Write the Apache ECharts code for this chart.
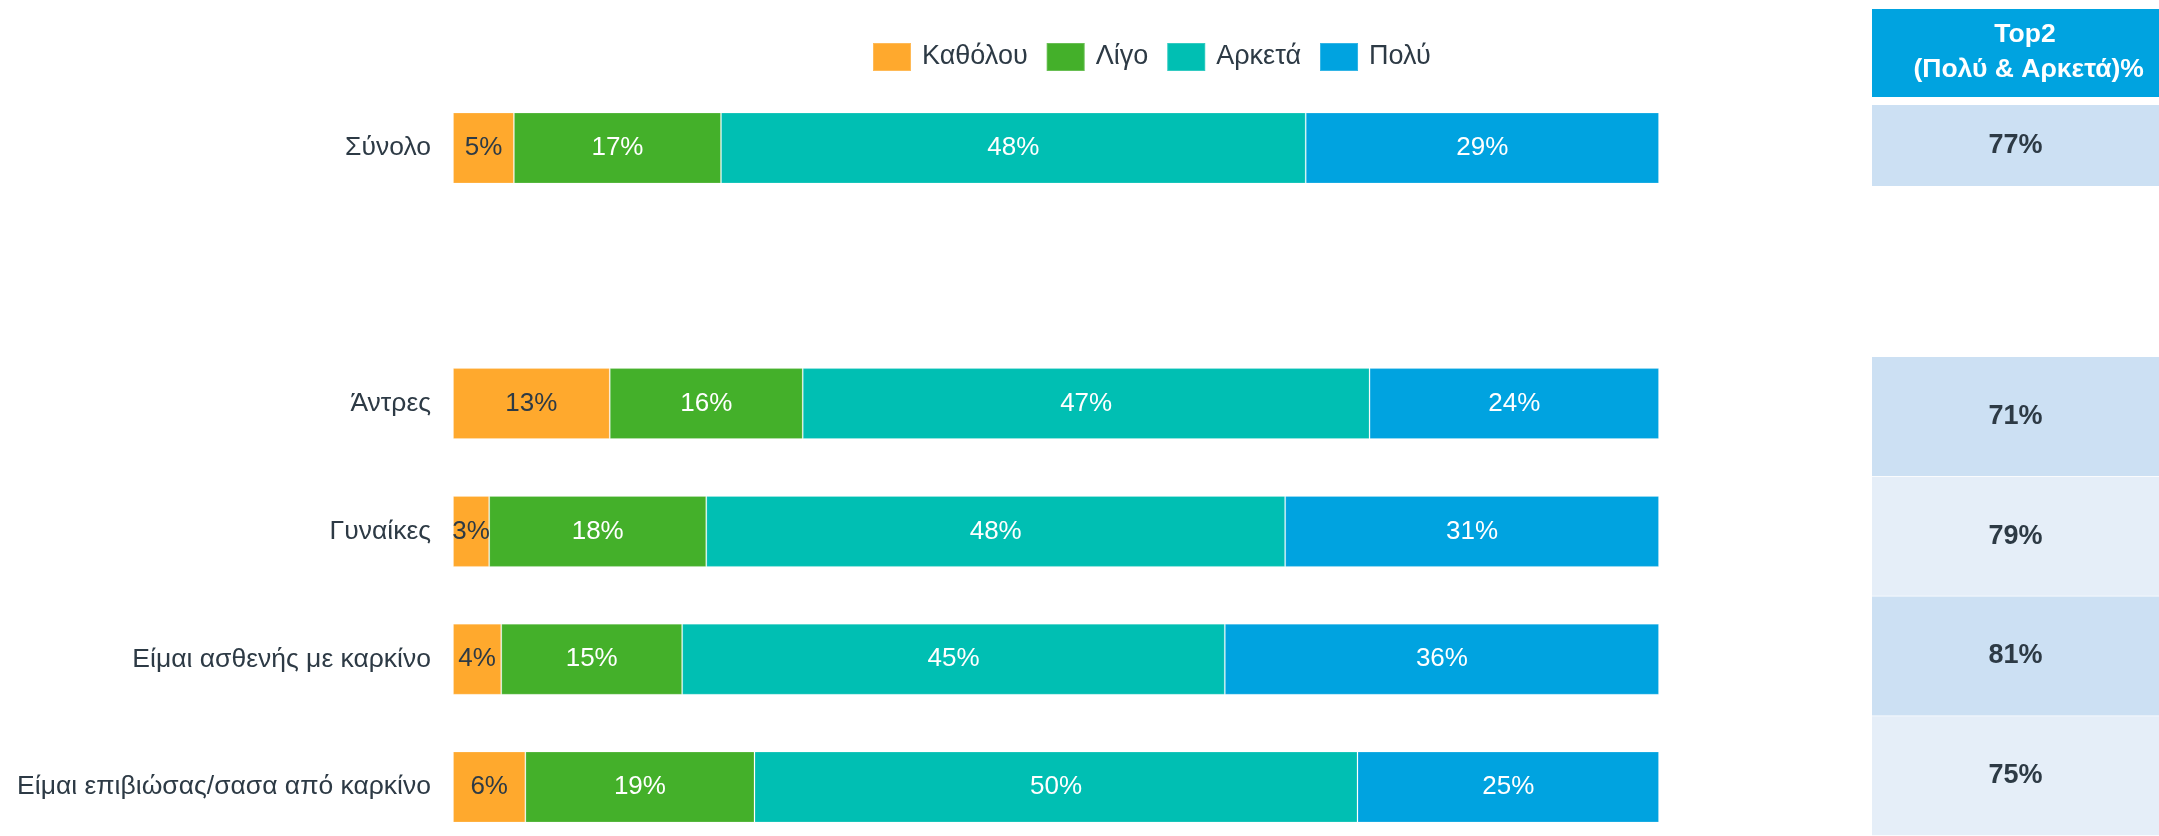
<!DOCTYPE html>
<html>
<head>
<meta charset="utf-8">
<script src="https://cdn.jsdelivr.net/npm/echarts@6/dist/echarts.min.js"></script>
<style>
  html, body { margin: 0; padding: 0; background: #ffffff; }
  #chart { width: 2159px; height: 836px; }
</style>
</head>
<body>
<div id="chart"></div>
<script>
// Row labels (the empty entry is a spacer between the total and the groups)
const categories = ['Σύνολο', '', 'Άντρες', 'Γυναίκες', 'Είμαι ασθενής με καρκίνο', 'Είμαι επιβιώσας/σασα από καρκίνο'];

// Answer shares per row, in %
const katholou = [5, null, 13, 3, 4, 6];
const ligo     = [17, null, 16, 18, 15, 19];
const arketa   = [48, null, 47, 48, 45, 50];
const poly     = [29, null, 24, 31, 36, 25];

const seriesNames = ['Καθόλου', 'Λίγο', 'Αρκετά', 'Πολύ'];

// Top2 table (Πολύ & Αρκετά)
const top2Total = [77];
const top2Groups = ['Άντρες', 'Γυναίκες', 'Είμαι ασθενής με καρκίνο', 'Είμαι επιβιώσας/σασα από καρκίνο'];
const top2GroupValues = [71, 79, 81, 75];
const top2Header = 'Top2\n (Πολύ & Αρκετά)%';

const colors = ['#FFA92D', '#44B02A', '#00BFB3', '#00A3E0'];
const labelColors = ['#2D3A45', '#FFFFFF', '#FFFFFF', '#FFFFFF'];
const FONT = '"Liberation Sans", Arial, sans-serif';

const allRows = [katholou, ligo, arketa, poly];
const rowTotals = categories.map((_, i) =>
  allRows.reduce((s, arr) => s + (arr[i] == null ? 0 : arr[i]), 0));

// Each row is scaled to fill 100% of the bar; labels keep the stated value
function rowData(arr) {
  return arr.map((v, i) => v == null ? '-' : { value: v / rowTotals[i] * 100, raw: v });
}

const barSeries = allRows.map((arr, k) => ({
  name: seriesNames[k],
  type: 'bar',
  stack: 'total',
  xAxisIndex: 0,
  yAxisIndex: 0,
  barWidth: 71,
  clip: false,
  data: rowData(arr),
  itemStyle: { color: colors[k], borderColor: 'rgba(255,255,255,0.2)', borderWidth: 1 },
  label: {
    show: true,
    position: 'inside',
    fontFamily: FONT,
    fontSize: 26,
    color: labelColors[k],
    formatter: p => p.data && p.data.raw != null ? p.data.raw + '%' : ''
  },
  emphasis: { disabled: true },
  silent: true
}));

const cellLabel = {
  show: true,
  position: 'inside',
  fontFamily: FONT,
  fontSize: 27,
  fontWeight: 'bold',
  color: '#2D3A45',
  formatter: p => p.data.raw + '%'
};

const option = {
  animation: false,
  backgroundColor: '#ffffff',
  textStyle: { fontFamily: FONT },
  legend: {
    data: seriesNames,
    left: 872,
    top: 42,
    padding: 0,
    itemWidth: 38,
    itemHeight: 28,
    itemGap: 18,
    icon: 'rect',
    selectedMode: false,
    textStyle: { fontFamily: FONT, fontSize: 27, color: '#2D3A45', padding: [0, 0, 0, 6] }
  },
  grid: [
    // row centres sit on the category ticks (first at the top edge, last at the bottom edge)
    { left: 453, width: 1206, top: 148, height: 639, containLabel: false },
    { left: 1872, width: 306, top: 356.5, height: 479, containLabel: false },
    { left: 1872, width: 306, top: 105, height: 81, containLabel: false }
  ],
  xAxis: [
    { gridIndex: 0, type: 'value', min: 0, max: 100, show: false },
    { gridIndex: 1, type: 'value', min: 0, max: 1, show: false },
    { gridIndex: 2, type: 'value', min: 0, max: 1, show: false }
  ],
  yAxis: [
    {
      gridIndex: 0,
      type: 'category',
      data: categories,
      inverse: true,
      boundaryGap: false,
      axisLine: { show: false },
      axisTick: { show: false },
      splitLine: { show: false },
      axisLabel: { fontFamily: FONT, fontSize: 26.5, color: '#2D3A45', margin: 22 }
    },
    { gridIndex: 1, type: 'category', data: top2Groups, inverse: true, show: false },
    { gridIndex: 2, type: 'category', data: ['Σύνολο'], inverse: true, show: false }
  ],
  series: barSeries.concat([
    {
      name: 'Top2 groups',
      type: 'bar',
      xAxisIndex: 1,
      yAxisIndex: 1,
      barWidth: 119,
      clip: false,
      data: top2GroupValues.map((v, i) => ({
        value: 1,
        raw: v,
        itemStyle: { color: i % 2 === 0 ? '#CCE0F3' : '#E5EEF8' }
      })),
      label: cellLabel,
      silent: true
    },
    {
      name: 'Top2 total',
      type: 'bar',
      xAxisIndex: 2,
      yAxisIndex: 2,
      barWidth: 81,
      data: top2Total.map(v => ({ value: 1, raw: v, itemStyle: { color: '#CCE0F3' } })),
      label: cellLabel,
      silent: true
    }
  ]),
  graphic: [
    {
      type: 'rect',
      left: 1872,
      top: 9,
      shape: { width: 306, height: 88 },
      style: { fill: '#00A3E0' },
      silent: true
    },
    {
      type: 'text',
      x: 2025,
      y: 52,
      style: {
        text: top2Header,
        fill: '#FFFFFF',
        font: 'bold 26.5px ' + FONT,
        textAlign: 'center',
        textVerticalAlign: 'middle',
        lineHeight: 35
      },
      silent: true
    }
  ]
};

const chart = echarts.init(document.getElementById('chart'), null, { renderer: 'canvas' });
chart.setOption(option);
</script>
</body>
</html>
